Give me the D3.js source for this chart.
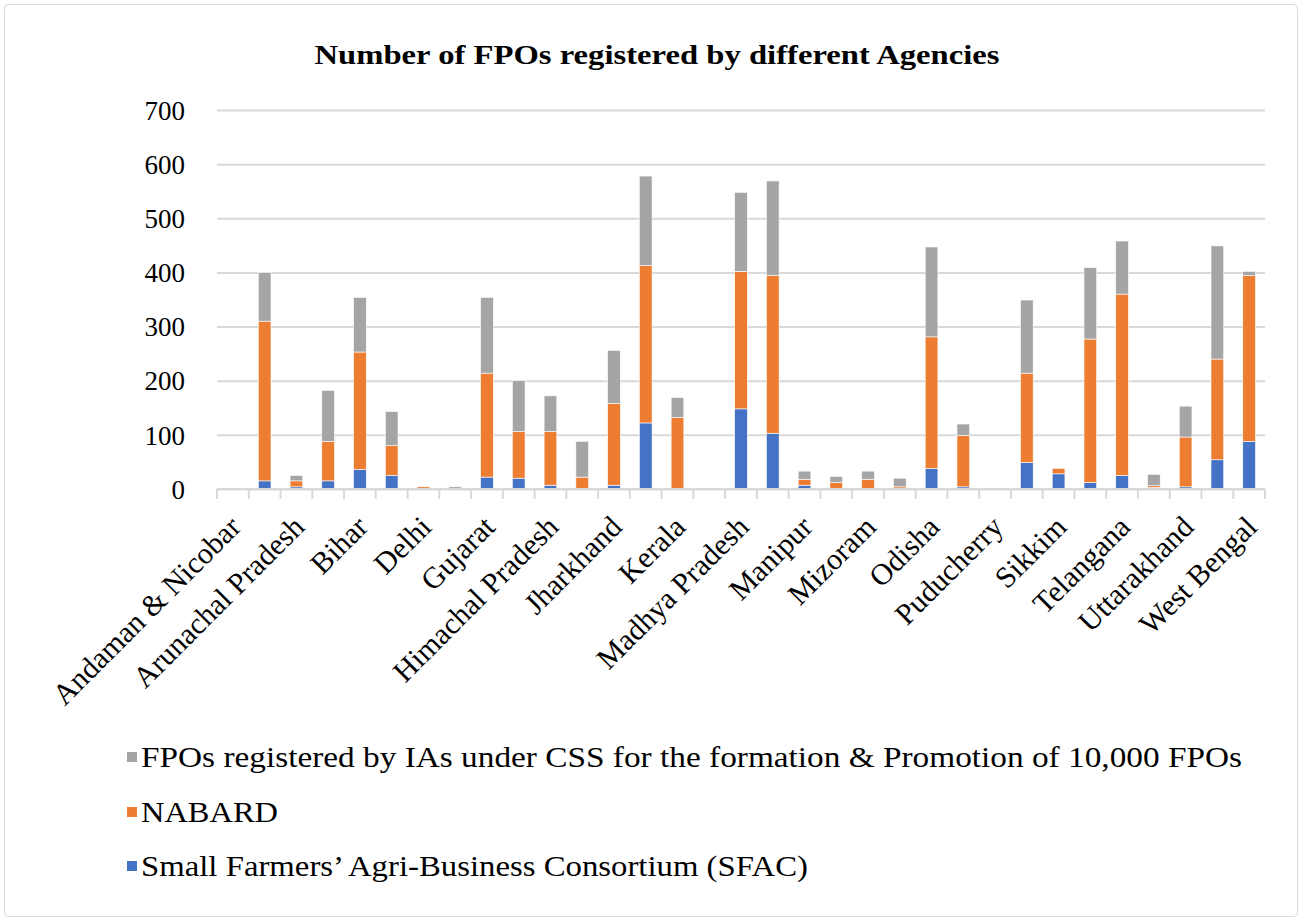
<!DOCTYPE html>
<html>
<head>
<meta charset="utf-8">
<script src="https://cdn.jsdelivr.net/npm/d3@7"></script>
<style>
  body { margin: 0; background: #fff; }
  text { font-family: "Liberation Serif", "Times New Roman", serif; fill: #000; }
</style>
</head>
<body>
<script>
// states / UTs, every other one gets a visible label (as in the original)
const states = [
  "Andaman & Nicobar", "Andhra Pradesh", "Arunachal Pradesh", "Assam", "Bihar",
  "Chhattisgarh", "Delhi", "Goa", "Gujarat", "Haryana", "Himachal Pradesh",
  "Jammu & Kashmir", "Jharkhand", "Karnataka", "Kerala", "Ladakh",
  "Madhya Pradesh", "Maharashtra", "Manipur", "Meghalaya", "Mizoram", "Nagaland",
  "Odisha", "Punjab", "Puducherry", "Rajasthan", "Sikkim", "Tamil Nadu",
  "Telangana", "Tripura", "Uttarakhand", "Uttar Pradesh", "West Bengal"
];
const shownLabels = states.filter((d, i) => i % 2 === 0);

const sfac = [0, 15, 4, 15, 36, 25, 0, 0, 22, 20, 7, 0, 7, 122, 0, 0, 148, 103, 7, 0, 0, 0, 38, 4, 0, 49, 28, 12, 25, 3, 4, 54, 88];
const nabard = [0, 295, 11, 73, 217, 55, 4, 0, 192, 86, 99, 22, 151, 291, 132, 0, 254, 291, 11, 12, 18, 4, 243, 95, 0, 165, 10, 265, 335, 3, 92, 186, 306];
const css = [0, 90, 10, 94, 101, 63, 0, 4, 140, 94, 66, 66, 98, 165, 37, 0, 146, 175, 15, 11, 15, 16, 166, 21, 0, 135, 0, 132, 98, 21, 57, 209, 8];

const seriesNames = [
  "Small Farmers’ Agri-Business Consortium (SFAC)",
  "NABARD",
  "FPOs registered by IAs under CSS for the formation & Promotion of 10,000 FPOs"
];
const colors = ["#4472C4", "#ED7D31", "#A5A5A5"];
const yTicks = [0, 100, 200, 300, 400, 500, 600, 700];

const w = 1302, h = 921;
const pLeft = 217, pRight = 1265, pTop = 110, pBottom = 489;

const rows = states.map((s, i) => ({ state: s, sfac: sfac[i], nabard: nabard[i], css: css[i] }));
const stack = d3.stack().keys(["sfac", "nabard", "css"])(rows);

const svg = d3.select("body").append("svg")
  .attr("width", w)
  .attr("height", h);

svg.append("rect")
  .attr("x", 4.5).attr("y", 4.5)
  .attr("width", w - 9).attr("height", h - 9)
  .attr("rx", 4)
  .attr("fill", "#fff")
  .attr("stroke", "#d9d9d9");

const x = d3.scaleBand()
  .domain(states)
  .range([pLeft, pRight])
  .paddingInner(0.6)
  .paddingOuter(0.3);

const y = d3.scaleLinear()
  .domain([0, 700])
  .range([pBottom, pTop]);

svg.append("text")
  .text("Number of FPOs registered by different Agencies")
  .attr("x", 657)
  .attr("y", 64)
  .attr("text-anchor", "middle")
  .attr("font-size", 28)
  .attr("font-weight", "bold")
  .attr("textLength", 685)
  .attr("lengthAdjust", "spacingAndGlyphs");

// gridlines + y labels
const yAxis = svg.append("g")
  .attr("transform", `translate(${pLeft},0)`)
  .call(d3.axisLeft(y).tickValues(yTicks).tickSize(-(pRight - pLeft)).tickPadding(32));
yAxis.select(".domain").remove();
yAxis.selectAll(".tick line")
  .attr("stroke", "#d9d9d9")
  .attr("stroke-width", 2);
yAxis.selectAll(".tick text")
  .attr("font-size", 27)
  .attr("font-family", "Liberation Serif")
  .attr("fill", "#000")
  .attr("dy", "0.34em");

// bars
svg.append("g")
  .selectAll("g")
  .data(stack)
  .enter()
  .append("g")
  .attr("fill", (d, i) => colors[i])
  .selectAll("rect")
  .data((d) => d)
  .enter()
  .append("rect")
  .attr("x", (d) => x(d.data.state))
  .attr("width", x.bandwidth())
  .attr("y", (d) => y(d[1]))
  .attr("height", (d) => y(d[0]) - y(d[1]))
  .attr("stroke", "#fff")
  .attr("stroke-width", 0.6);

// x axis line and ticks between categories
const step = x.step();
const xAxis = svg.append("g");
xAxis.append("line")
  .attr("x1", pLeft).attr("x2", pRight)
  .attr("y1", pBottom).attr("y2", pBottom)
  .attr("stroke", "#d9d9d9")
  .attr("stroke-width", 2);
xAxis.selectAll(".xtick")
  .data(d3.range(states.length + 1))
  .enter()
  .append("line")
  .attr("class", "xtick")
  .attr("x1", (d) => pLeft + d * step)
  .attr("x2", (d) => pLeft + d * step)
  .attr("y1", pBottom)
  .attr("y2", pBottom + 10)
  .attr("stroke", "#d9d9d9")
  .attr("stroke-width", 2);

xAxis.selectAll(".xlabel")
  .data(shownLabels)
  .enter()
  .append("text")
  .attr("class", "xlabel")
  .attr("transform", (d) => `translate(${x(d) + x.bandwidth() / 2 - 3},${pBottom + 27}) rotate(-45)`)
  .attr("text-anchor", "end")
  .attr("dy", "0.6em")
  .attr("font-size", 30)
  .text((d) => d);

// legend
const legendRows = [
  { name: seriesNames[2], color: colors[2], y: 757, len: 1101 },
  { name: seriesNames[1], color: colors[1], y: 812, len: 137 },
  { name: seriesNames[0], color: colors[0], y: 866, len: 667 }
];

const legend = svg.append("g");
legend.selectAll("rect")
  .data(legendRows)
  .enter()
  .append("rect")
  .attr("x", 127)
  .attr("y", (d) => d.y - 5)
  .attr("width", 10)
  .attr("height", 10)
  .attr("fill", (d) => d.color);

legend.selectAll("text")
  .data(legendRows)
  .enter()
  .append("text")
  .attr("x", 141)
  .attr("y", (d) => d.y)
  .attr("dy", "0.35em")
  .attr("font-size", 29)
  .attr("textLength", (d) => d.len)
  .attr("lengthAdjust", "spacingAndGlyphs")
  .text((d) => d.name);
</script>
</body>
</html>
